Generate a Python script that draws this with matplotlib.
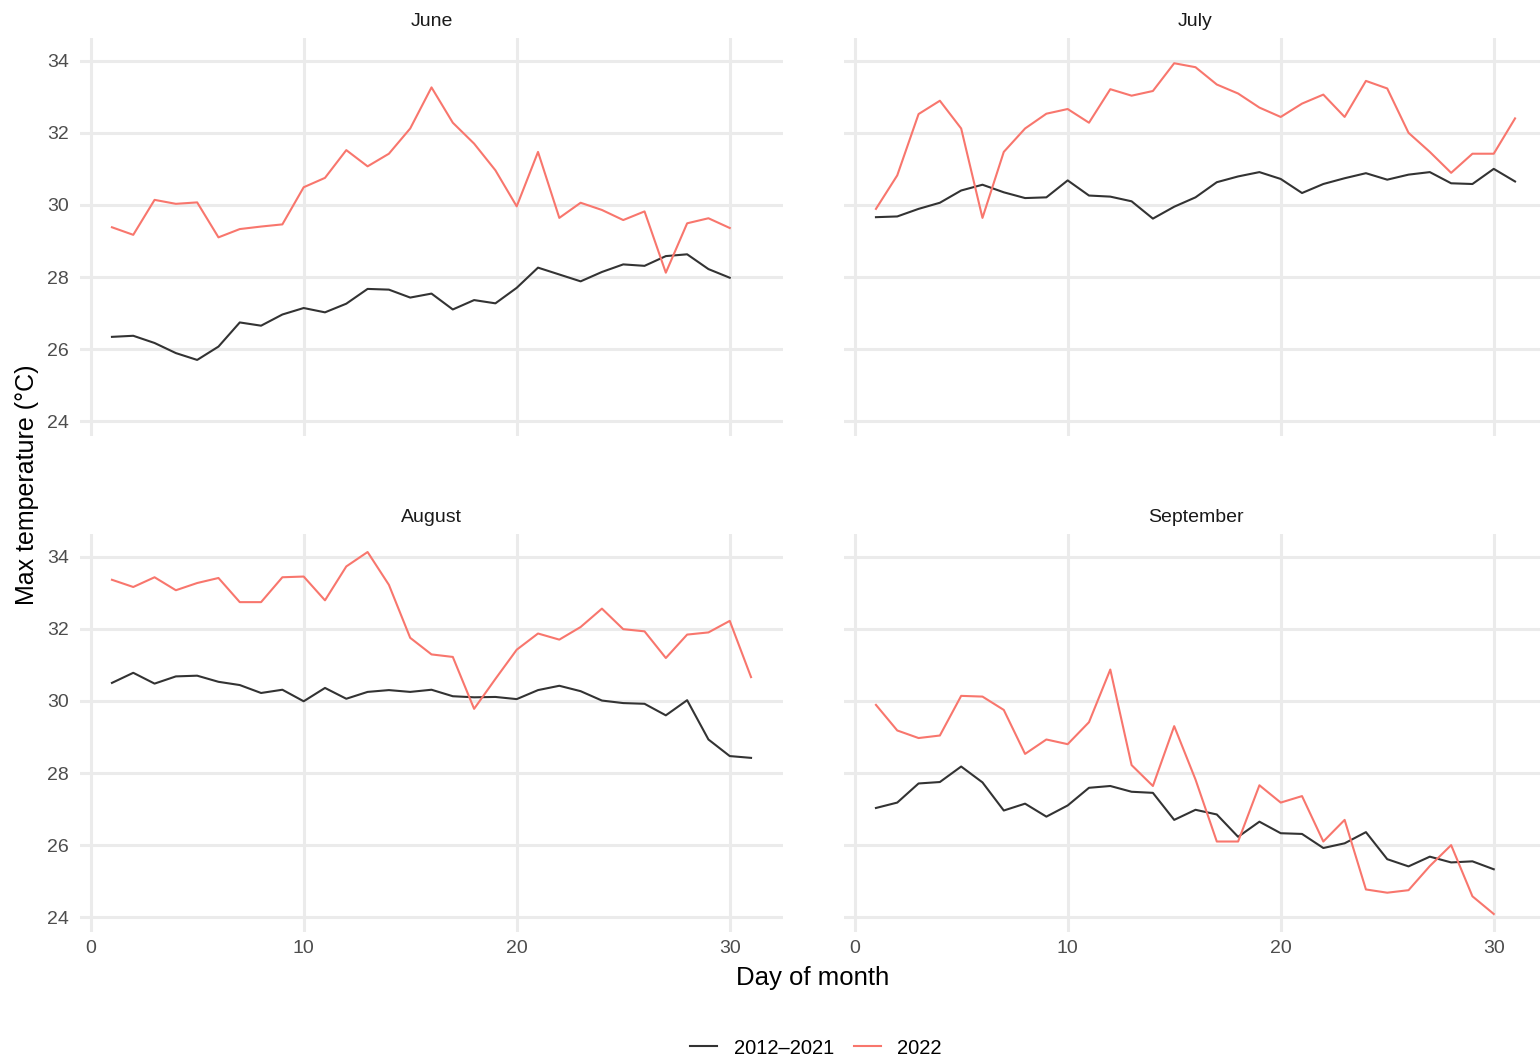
import numpy as np
import matplotlib.pyplot as plt
from matplotlib.lines import Line2D

plt.rcParams['font.family'] = ['Liberation Sans', 'DejaVu Sans']

# daily max temperature, mean 2012-2021 vs 2022
june_avg = [26.34, 26.37, 26.17, 25.89, 25.70, 26.07, 26.74, 26.65, 26.96, 27.14,
            27.02, 27.26, 27.67, 27.65, 27.43, 27.54, 27.10, 27.36, 27.27, 27.70,
            28.26, 28.07, 27.88, 28.14, 28.35, 28.31, 28.58, 28.63, 28.22, 27.98]
june_2022 = [29.38, 29.17, 30.14, 30.03, 30.07, 29.10, 29.33, 29.40, 29.46, 30.49,
             30.75, 31.52, 31.07, 31.42, 32.12, 33.26, 32.28, 31.70, 30.96, 29.96,
             31.47, 29.64, 30.06, 29.86, 29.58, 29.82, 28.12, 29.49, 29.63, 29.36]
july_avg = [29.66, 29.68, 29.89, 30.06, 30.40, 30.56, 30.35, 30.19, 30.21, 30.68,
            30.26, 30.23, 30.10, 29.62, 29.95, 30.21, 30.63, 30.79, 30.91, 30.72,
            30.33, 30.58, 30.74, 30.88, 30.70, 30.84, 30.91, 30.60, 30.58, 31.00, 30.65]
july_2022 = [29.89, 30.82, 32.52, 32.89, 32.12, 29.64, 31.47, 32.12, 32.53, 32.66,
             32.28, 33.21, 33.03, 33.16, 33.93, 33.82, 33.34, 33.09, 32.70, 32.44,
             32.81, 33.06, 32.44, 33.44, 33.23, 32.00, 31.47, 30.89, 31.42, 31.42, 32.40]
aug_avg = [30.50, 30.78, 30.48, 30.68, 30.70, 30.53, 30.44, 30.22, 30.31, 29.99,
           30.36, 30.06, 30.25, 30.30, 30.25, 30.31, 30.13, 30.10, 30.11, 30.05,
           30.30, 30.42, 30.27, 30.01, 29.94, 29.92, 29.60, 30.02, 28.93, 28.47, 28.42]
aug_2022 = [33.36, 33.16, 33.43, 33.07, 33.27, 33.41, 32.74, 32.74, 33.43, 33.45,
            32.79, 33.73, 34.13, 33.22, 31.75, 31.29, 31.22, 29.78, 30.61, 31.42,
            31.87, 31.70, 32.05, 32.56, 31.99, 31.93, 31.19, 31.84, 31.90, 32.22, 30.66]
sep_avg = [27.03, 27.18, 27.71, 27.75, 28.18, 27.74, 26.96, 27.15, 26.79, 27.10,
           27.59, 27.64, 27.48, 27.45, 26.70, 26.98, 26.85, 26.23, 26.65, 26.33,
           26.31, 25.92, 26.05, 26.36, 25.61, 25.41, 25.68, 25.52, 25.55, 25.33]
sep_2022 = [29.89, 29.18, 28.97, 29.04, 30.14, 30.12, 29.75, 28.53, 28.93, 28.80,
            29.41, 30.87, 28.22, 27.64, 29.30, 27.82, 26.10, 26.10, 27.66, 27.18,
            27.36, 26.10, 26.70, 24.77, 24.68, 24.75, 25.42, 26.00, 24.58, 24.09]

months = ['June', 'July', 'August', 'September']
avg_series = [june_avg, july_avg, aug_avg, sep_avg]
new_series = [june_2022, july_2022, aug_2022, sep_2022]
legend_labels = ['2012\u20132021', '2022']

col_avg = '#333333'
col_new = '#F8766D'
grid_col = '#EBEBEB'
tick_col = '#4D4D4D'

W, H = 1540, 1063
fig = plt.figure(figsize=(W / 100, H / 100), dpi=100)

lefts = [80, 844]
tops = [38, 534]
pw, ph = 703, 398

for i, m in enumerate(months):
    r, c = divmod(i, 2)
    x0 = lefts[c] / W
    y0 = 1 - (tops[r] + ph) / H
    ax = fig.add_axes([x0, y0, pw / W, ph / H])
    days = np.arange(1, len(avg_series[i]) + 1)
    ax.plot(days, avg_series[i], color=col_avg, lw=1.5)
    ax.plot(days, new_series[i], color=col_new, lw=1.5)
    ax.set_xlim(-0.5, 32.5)
    ax.set_ylim(23.59, 34.63)
    ax.set_xticks([0, 10, 20, 30])
    ax.set_yticks([24, 26, 28, 30, 32, 34])
    ax.grid(True, color=grid_col, lw=2.2)
    ax.set_axisbelow(True)
    for s in ax.spines.values():
        s.set_visible(False)
    ax.tick_params(length=0, labelsize=14, labelcolor=tick_col)
    ax.tick_params(axis='y', pad=8)
    ax.tick_params(axis='x', pad=6)
    if r == 0:
        ax.set_xticklabels([])
    if c == 1:
        ax.set_yticklabels([])
    ax.set_title(m, fontsize=14, color='#1A1A1A', pad=9)

fig.text(813 / W, 1 - 978 / H, 'Day of month', ha='center', va='center', fontsize=18.5)
fig.text(27 / W, 1 - 485 / H, 'Max temperature (\u00b0C)', ha='center', va='center',
         rotation=90, fontsize=18)

handles = [Line2D([], [], color=col_avg, lw=1.5), Line2D([], [], color=col_new, lw=1.5)]
fig.legend(handles, legend_labels, loc='center', bbox_to_anchor=(816 / W, 1 - 1048 / H),
           ncol=2, frameon=False, fontsize=14.5, handlelength=1.35, handletextpad=0.8,
           columnspacing=1.0)

fig.savefig('out.png', dpi=100)
